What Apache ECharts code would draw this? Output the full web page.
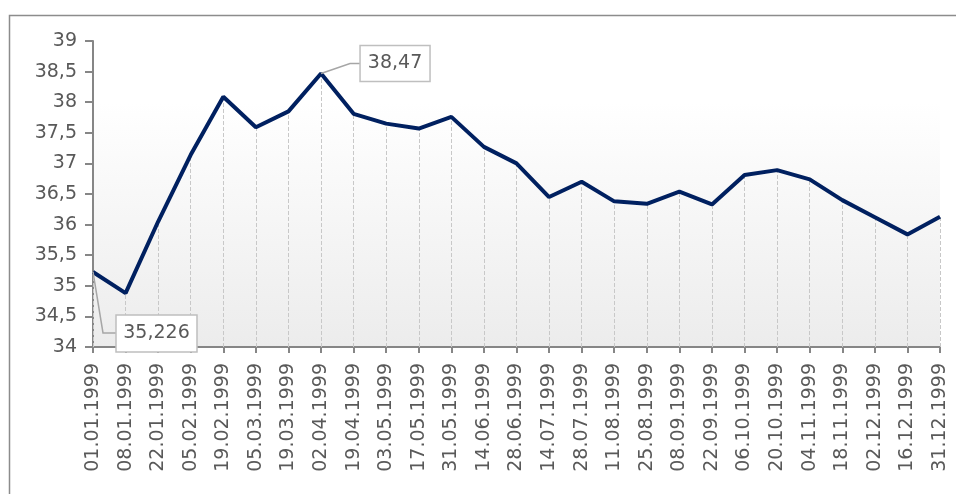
<!DOCTYPE html>
<html>
<head>
<meta charset="utf-8">
<script src="https://cdn.jsdelivr.net/npm/echarts@6/dist/echarts.min.js"></script>
<style>
  html, body { margin: 0; padding: 0; background: #fff; }
  #chart { width: 956px; height: 494px; }
</style>
</head>
<body>
<div id="chart"></div>
<script>
var categories = ['01.01.1999', '08.01.1999', '22.01.1999', '05.02.1999', '19.02.1999', '05.03.1999',
    '19.03.1999', '02.04.1999', '19.04.1999', '03.05.1999', '17.05.1999', '31.05.1999', '14.06.1999',
    '28.06.1999', '14.07.1999', '28.07.1999', '11.08.1999', '25.08.1999', '08.09.1999', '22.09.1999',
    '06.10.1999', '20.10.1999', '04.11.1999', '18.11.1999', '02.12.1999', '16.12.1999', '31.12.1999'];
var values = [35.226, 34.88, 36.05, 37.14, 38.09, 37.59, 37.85, 38.47, 37.81, 37.65, 37.57, 37.76, 37.27,
    37.0, 36.45, 36.70, 36.38, 36.34, 36.54, 36.33, 36.81, 36.89, 36.74, 36.40, 36.12, 35.84, 36.13];
var yMin = 34, yMax = 39, yStep = 0.5;
// points that get a callout box
var notes = [7, 0];

var textColor = '#595959';
var axisColor = '#868686';
var font = 'DejaVu Sans';

function comma(v) { return String(v).replace('.', ','); }

var dropLines = values.map(function (v, i) {
    return [{ coord: [i, yMin] }, { coord: [i, v] }];
});

var myChart = echarts.init(document.getElementById('chart'));
var option = {
    animation: false,
    grid: {
        left: 93, right: 16, top: 41, bottom: 147,
        show: true,
        borderWidth: 0,
        backgroundColor: new echarts.graphic.LinearGradient(0, 0, 0, 1, [
            { offset: 0, color: '#ffffff' },
            { offset: 0.2, color: '#ffffff' },
            { offset: 1, color: '#ececec' }
        ])
    },
    xAxis: {
        type: 'category',
        data: categories,
        boundaryGap: false,
        axisLine: { lineStyle: { color: axisColor, width: 2 } },
        axisTick: { alignWithLabel: true, length: 6, interval: 0, lineStyle: { color: axisColor, width: 2 } },
        axisLabel: { rotate: 90, interval: 0, margin: 16, color: textColor, fontFamily: font, fontSize: 19 },
        splitLine: { show: false }
    },
    yAxis: {
        type: 'value',
        min: yMin, max: yMax, interval: yStep,
        axisLine: { show: true, lineStyle: { color: axisColor, width: 2 } },
        axisTick: { show: true, length: 8, lineStyle: { color: axisColor, width: 2 } },
        axisLabel: { color: textColor, fontFamily: font, fontSize: 19, margin: 16, formatter: comma },
        splitLine: { show: false }
    },
    series: [{
        type: 'line',
        data: values,
        symbol: 'none',
        lineStyle: { color: '#002060', width: 4 },
        z: 3,
        markLine: {
            silent: true,
            symbol: 'none',
            label: { show: false },
            lineStyle: { color: '#c8c8c8', type: 'dashed', width: 1 },
            data: dropLines,
            z: 1
        }
    }]
};
myChart.setOption(option);

// callout boxes with leader lines
var boxes = [
    { lead: [29, -10], box: [39, -28, 70, 36] },
    { lead: [10, 61], box: [23, 43, 81, 37] }
];
var elements = [];
notes.forEach(function (idx, k) {
    var p = myChart.convertToPixel({ seriesIndex: 0 }, [idx, values[idx]]);
    var b = boxes[k];
    elements.push({
        type: 'polyline', z: 100,
        shape: { points: [[p[0], p[1]], [p[0] + b.lead[0], p[1] + b.lead[1]], [p[0] + b.box[0], p[1] + b.lead[1]]] },
        style: { stroke: '#a6a6a6', lineWidth: 1.5, fill: null }
    });
    elements.push({
        type: 'rect', z: 100,
        shape: { x: p[0] + b.box[0], y: p[1] + b.box[1], width: b.box[2], height: b.box[3] },
        style: { fill: '#ffffff', stroke: '#bfbfbf', lineWidth: 1.5 }
    });
    elements.push({
        type: 'text', z: 101,
        x: p[0] + b.box[0] + b.box[2] / 2, y: p[1] + b.box[1] + b.box[3] / 2,
        style: { text: comma(values[idx]), fill: textColor, font: '19px "DejaVu Sans"', align: 'center', verticalAlign: 'middle' }
    });
});
elements.push({
    type: 'rect', z: 0, silent: true,
    shape: { x: 9.5, y: 15.5, width: 1000, height: 600 },
    style: { fill: null, stroke: '#8c8c8c', lineWidth: 1.5 }
});
myChart.setOption({ graphic: elements });
</script>
</body>
</html>
